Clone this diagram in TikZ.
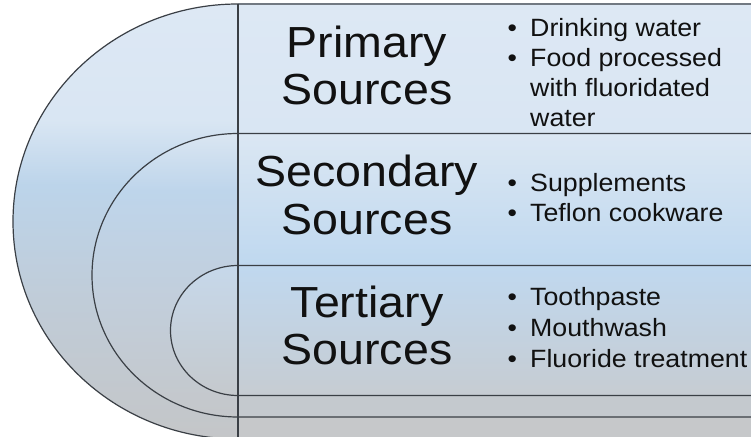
\documentclass[tikz,border=0pt]{standalone}
\usepackage{fontspec}
\setmainfont{Liberation Sans}[FakeStretch=1.07]
\definecolor{oA}{HTML}{DDE8F4}
\definecolor{oB}{HTML}{D9E6F3}
\definecolor{oC}{HTML}{BCD4EA}
\definecolor{oD}{HTML}{C0CCD8}
\definecolor{oE}{HTML}{C4C6C8}
\definecolor{sA}{HTML}{DAE6F2}
\definecolor{sB}{HTML}{BED5EB}
\definecolor{sC}{HTML}{C2CEDB}
\definecolor{sD}{HTML}{C4C7CA}
\definecolor{iA}{HTML}{C6D8EA}
\definecolor{iB}{HTML}{C5C9CD}
\definecolor{bTwoA}{HTML}{DBE7F3}
\definecolor{bTwoB}{HTML}{BFD8EF}
\definecolor{bThrA}{HTML}{C0D8EF}
\definecolor{bThrB}{HTML}{C6CCD2}
\definecolor{bFour}{HTML}{C4C9CE}
\definecolor{bFive}{HTML}{C6C8CA}
\definecolor{edge}{HTML}{3A3F45}
\definecolor{ink}{HTML}{111111}
\pgfdeclareverticalshading{outershade}{100bp}{color(0bp)=(oE); color(25bp)=(oE); color(41bp)=(oD); color(54.2bp)=(oC); color(61.7bp)=(oB); color(75bp)=(oA); color(100bp)=(oA)}
\pgfdeclareverticalshading{secondshade}{100bp}{color(0bp)=(sD); color(25bp)=(sD); color(45.6bp)=(sC); color(65bp)=(sB); color(75bp)=(sA); color(100bp)=(sA)}
\tikzset{
  edgeline/.style={draw=edge, line width=1.2pt},
  head/.style={anchor=base, inner sep=0pt, text=ink, font=\fontsize{43.5}{47}\selectfont},
  item/.style={anchor=base west, inner sep=0pt, text=ink, font=\fontsize{25}{30}\selectfont},
}
\newcommand{\bul}{\makebox[22.5pt][l]{\textbullet}}
\begin{document}
\begin{tikzpicture}[x=1pt,y=1pt]
\useasboundingbox (0,0) rectangle (751,436);
\clip (0,0) rectangle (751,436);
% fills of the nested D shapes
\shade[shading=outershade] (760,432) -- (238,432) arc[start angle=90, end angle=270, x radius=225pt, y radius=217.5pt] -- (760,-3) -- cycle;
\shade[shading=secondshade] (760,302.5) -- (238,302.5) arc[start angle=90, end angle=270, x radius=146pt, y radius=141.75pt] -- (760,19) -- cycle;
\shade[top color=iA, bottom color=iB] (760,170.5) -- (238,170.5) arc[start angle=90, end angle=270, x radius=67.5pt, y radius=65pt] -- (760,40.5) -- cycle;
% right-hand bands
\shade[top color=oA, bottom color=oB] (238,302.5) rectangle (760,432);
\shade[top color=bTwoA, bottom color=bTwoB] (238,170.5) rectangle (760,302.5);
\shade[top color=bThrA, bottom color=bThrB] (238,40.5) rectangle (760,170.5);
\fill[bFour] (238,19) rectangle (760,40.5);
\fill[bFive] (238,-5) rectangle (760,19);
% outlines
\draw[edgeline] (760,432) -- (238,432) arc[start angle=90, end angle=270, x radius=225pt, y radius=217.5pt] -- (760,-3);
\draw[edgeline] (760,302.5) -- (238,302.5) arc[start angle=90, end angle=270, x radius=146pt, y radius=141.75pt] -- (760,19);
\draw[edgeline] (760,170.5) -- (238,170.5) arc[start angle=90, end angle=270, x radius=67.5pt, y radius=65pt] -- (760,40.5);
\coordinate (vtop) at (238,432);
\coordinate (vbot) at (238,-5);
\draw[edgeline] (vtop) -- (vbot);
% headings
\node[head] (p1) at (367,378) {Primary};
\node[head] (p2) at (367,331) {Sources};
\node[head] (s1) at (367,249) {Secondary};
\node[head] (s2) at (367,201) {Sources};
\node[head] (t1) at (367,118) {Tertiary};
\node[head] (t2) at (367,71) {Sources};
% bullets
\node[item] (pb1) at (507.5,399) {\bul Drinking water};
\node[item] (pb2) at (507.5,369) {\bul Food processed};
\node[item] (pb3) at (530,339) {with fluoridated};
\node[item] (pb4) at (530,309) {water};
\node[item] (sb1) at (507.5,244) {\bul Supplements};
\node[item] (sb2) at (507.5,214) {\bul Teflon cookware};
\node[item] (tb1) at (507.5,130) {\bul Toothpaste};
\node[item] (tb2) at (507.5,99) {\bul Mouthwash};
\node[item] (tb3) at (507.5,69) {\bul Fluoride treatment};
\end{tikzpicture}
\end{document}
